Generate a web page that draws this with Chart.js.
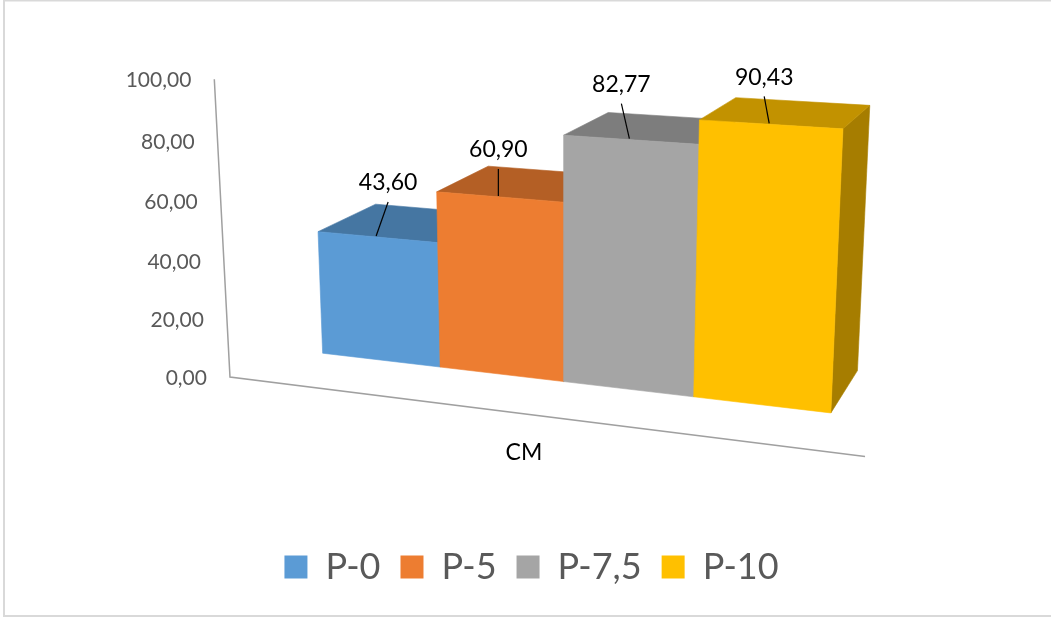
<!DOCTYPE html>
<html>
<head>
<meta charset="utf-8">
<script src="https://cdn.jsdelivr.net/npm/chart.js@4.4.1/dist/chart.umd.min.js"></script>
<style>
  html, body { margin: 0; padding: 0; background: #ffffff; }
  canvas { display: block; }
</style>
</head>
<body>
<canvas id="chart" width="1051" height="619"></canvas>
<script>
// ---- data ----
const categories = ['CM'];
const seriesNames = ['P-0', 'P-5', 'P-7,5', 'P-10'];
const seriesValues = [43.60, 60.90, 82.77, 90.43];
const seriesColors = ['#5B9BD5', '#ED7D31', '#A5A5A5', '#FFC000'];
const valueAxis = { min: 0, max: 100, step: 20 };

// ---- 3-D view: rotation X 15°, rotation Y 20°, with perspective ----
// world units: X along the category band, Y = value, W = depth (away from viewer)
const VIEW = {
  rotX: 15, rotY: 20,
  focal: 1725, cx: 563, cy: 267,
  dist: 600.7, shiftX: -83.47, shiftY: -30.05,
  floorLeft: -17.2, floorRight: 195.3,   // world X of the category band edges
  axisDepth: -33.7                        // depth of the axis lines (in front of the bars)
};
const TOP_SHADE = 0.76, SIDE_SHADE = 0.65;
// label placement relative to the middle of each bar's front top edge (px)
const LABEL_SHIFT = [[11, -54], [-1, -47], [-9, -55], [-6, -47]];

function project(X, Y, W) {
  const ay = VIEW.rotY * Math.PI / 180, ax = VIEW.rotX * Math.PI / 180;
  const x1 = X * Math.cos(ay) + W * Math.sin(ay);
  const z1 = -X * Math.sin(ay) + W * Math.cos(ay);
  const xc = x1 + VIEW.shiftX;
  const yc = Y * Math.cos(ax) + z1 * Math.sin(ax) + VIEW.shiftY;
  const zc = -Y * Math.sin(ax) + z1 * Math.cos(ax) + VIEW.dist;
  return { x: VIEW.cx + VIEW.focal * xc / zc, y: VIEW.cy - VIEW.focal * yc / zc };
}

function shade(hex, f) {
  const n = parseInt(hex.slice(1), 16);
  const r = Math.round(((n >> 16) & 255) * f);
  const g = Math.round(((n >> 8) & 255) * f);
  const b = Math.round((n & 255) * f);
  return `rgb(${r},${g},${b})`;
}

function fillPoly(ctx, pts, color) {
  ctx.beginPath();
  pts.forEach((p, i) => (i ? ctx.lineTo(p.x, p.y) : ctx.moveTo(p.x, p.y)));
  ctx.closePath();
  ctx.fillStyle = color;
  ctx.fill();
  ctx.strokeStyle = color;
  ctx.lineWidth = 0.6;
  ctx.stroke();
}

const fmt = v => v.toFixed(2).replace('.', ',');

const bars3d = {
  id: 'bars3d',
  beforeDraw(chart) {
    const { ctx, width, height } = chart;
    ctx.save();
    ctx.fillStyle = '#ffffff';
    ctx.fillRect(0, 0, width, height);
    ctx.strokeStyle = '#d9d9d9';
    ctx.lineWidth = 2;
    ctx.beginPath();
    ctx.moveTo(width + 2, 0.5); ctx.lineTo(4, 0.5);
    ctx.lineTo(4, height - 3); ctx.lineTo(width + 2, height - 3);
    ctx.stroke();
    ctx.restore();
  },
  beforeDatasetsDraw() { return false; },
  afterDraw(chart) {
    const ctx = chart.ctx;
    const xs = chart.scales.x, ys = chart.scales.y;
    const toX = px => VIEW.floorLeft + (px - xs.left) / (xs.right - xs.left) * (VIEW.floorRight - VIEW.floorLeft);
    const Wa = VIEW.axisDepth;
    const yLo = ys.min, yHi = ys.max;
    ctx.save();

    // value axis line and category baseline
    const corner = project(VIEW.floorLeft, yLo, Wa);
    const axisTop = project(VIEW.floorLeft, yHi, Wa);
    const axisEnd = project(VIEW.floorRight, yLo, Wa);
    ctx.strokeStyle = '#a0a0a0';
    ctx.lineWidth = 1.5;
    ctx.beginPath();
    ctx.moveTo(axisTop.x, axisTop.y);
    ctx.lineTo(corner.x, corner.y);
    ctx.lineTo(axisEnd.x, axisEnd.y);
    ctx.stroke();

    // value tick labels
    const ticks = ys.ticks && ys.ticks.length ? ys.ticks.map(t => t.value) : [];
    ctx.font = '21px Lato';
    ctx.fillStyle = '#595959';
    ctx.textAlign = 'right';
    ctx.textBaseline = 'middle';
    ticks.forEach(v => {
      const p = project(VIEW.floorLeft, v, Wa);
      ctx.fillText(fmt(v), p.x - 23, p.y + 1);
    });

    // category label
    categories.forEach((c, j) => {
      const px = xs.getPixelForValue(j);
      const p = project(toX(px), yLo, Wa);
      ctx.font = '23px Lato';
      ctx.fillStyle = '#000000';
      ctx.textAlign = 'center';
      ctx.fillText(c, p.x - 3, p.y + 38);
    });

    // bars, painted left to right (the right side is nearer the viewer)
    const labels = [];
    chart.data.datasets.forEach((ds, i) => {
      const meta = chart.getDatasetMeta(i);
      if (meta.hidden) return;
      meta.data.forEach((el, j) => {
        const p = el.getProps(['x', 'y', 'base', 'width'], true);
        const X0 = toX(p.x - p.width / 2), X1 = toX(p.x + p.width / 2);
        const Y0 = ys.getValueForPixel(p.base), Y1 = ys.getValueForPixel(p.y);
        const W0 = 0, W1 = X1 - X0;
        const col = ds.backgroundColor;
        fillPoly(ctx, [project(X1, Y0, W0), project(X1, Y0, W1), project(X1, Y1, W1), project(X1, Y1, W0)], shade(col, SIDE_SHADE));
        fillPoly(ctx, [project(X0, Y1, W0), project(X1, Y1, W0), project(X1, Y1, W1), project(X0, Y1, W1)], shade(col, TOP_SHADE));
        fillPoly(ctx, [project(X0, Y0, W0), project(X1, Y0, W0), project(X1, Y1, W0), project(X0, Y1, W0)], col);
        labels.push({ anchor: project((X0 + X1) / 2, Y1, W0), value: ds.data[j], i });
      });
    });

    // value labels with leader lines
    labels.forEach(l => {
      const s = LABEL_SHIFT[l.i] || [0, -50];
      const lx = l.anchor.x + s[0], ly = l.anchor.y + s[1];
      ctx.strokeStyle = '#000000';
      ctx.lineWidth = 1.2;
      ctx.beginPath();
      ctx.moveTo(lx, ly + 19);
      ctx.lineTo(l.anchor.x - 1, l.anchor.y - 1);
      ctx.stroke();
      ctx.font = '23px Lato';
      ctx.fillStyle = '#000000';
      ctx.textAlign = 'center';
      ctx.textBaseline = 'middle';
      ctx.fillText(fmt(l.value), lx, ly);
    });
    ctx.restore();
  }
};

new Chart(document.getElementById('chart'), {
  type: 'bar',
  data: {
    labels: categories,
    datasets: seriesNames.map((name, i) => ({
      label: name,
      data: [seriesValues[i]],
      backgroundColor: seriesColors[i],
      borderWidth: 0,
      categoryPercentage: 0.8405,
      barPercentage: 1.0
    }))
  },
  options: {
    responsive: false,
    animation: false,
    devicePixelRatio: 1,
    layout: { padding: { left: 12, right: 0, top: 10, bottom: 24 } },
    scales: {
      x: { display: false },
      y: { display: false, min: valueAxis.min, max: valueAxis.max, ticks: { stepSize: valueAxis.step } }
    },
    plugins: {
      legend: {
        display: true,
        position: 'bottom',
        labels: {
          boxWidth: 23,
          boxHeight: 23,
          padding: 20,
          color: '#595959',
          font: { family: 'Lato', size: 36 }
        }
      },
      tooltip: { enabled: false }
    }
  },
  plugins: [bars3d]
});
</script>
</body>
</html>
